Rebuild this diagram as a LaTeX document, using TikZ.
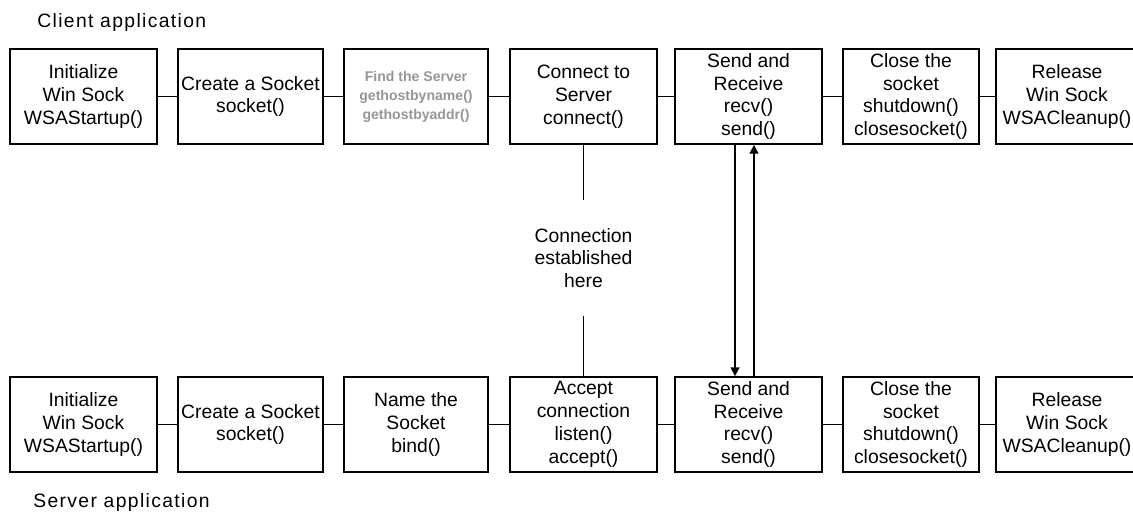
\documentclass[tikz,border=0pt]{standalone}
\usepackage{fontspec}
\setmainfont{Liberation Sans}
\usetikzlibrary{arrows.meta}
\definecolor{faint}{RGB}{150,150,150}
\tikzset{
  box/.style={draw, line width=1pt, inner sep=0pt, align=center,
    minimum height=1.9cm, font=\fontsize{11}{13}\selectfont},
  link/.style={line width=1pt},
  flow/.style={line width=1pt, -{Triangle[width=5pt,length=5pt]}},
  title/.style={anchor=west, inner sep=0pt,
    font=\fontsize{11}{13}\selectfont\addfontfeature{LetterSpace=7}},
  note/.style={align=center, inner sep=0pt, font=\fontsize{11}{13}\selectfont}
}
\begin{document}
\begin{tikzpicture}[x=0.02cm, y=-0.02cm]
\useasboundingbox (0,0) rectangle (1133,512);
% titles
\node[title] (ct) at (37,22) {Client application};
\node[title] (st) at (33,502) {Server application};
% client row
\node[box, minimum width=2.94cm] (t1) at (83.5,96.5) {Initialize\\Win Sock\\WSAStartup()};
\node[box, minimum width=2.90cm] (t2) at (250.5,96.5) {Create a Socket\\socket()};
\node[box, minimum width=2.88cm, font=\fontsize{8}{10.8}\selectfont\bfseries, text=faint] (t3) at (416,96.5) {Find the Server\\gethostbyname()\\gethostbyaddr()};
\node[box, minimum width=2.94cm] (t4) at (583.5,96.5) {Connect to\\Server\\connect()};
\node[box, minimum width=2.94cm] (t5) at (748.5,96.5) {Send and\\Receive\\recv()\\send()};
\node[box, minimum width=2.72cm] (t6) at (911,96.5) {Close the\\socket\\shutdown()\\closesocket()};
\node[box, minimum width=2.84cm] (t7) at (1067,96.5) {Release\\Win Sock\\WSACleanup()};
% server row
\node[box, minimum width=2.94cm] (b1) at (83.5,424.5) {Initialize\\Win Sock\\WSAStartup()};
\node[box, minimum width=2.90cm] (b2) at (250.5,424.5) {Create a Socket\\socket()};
\node[box, minimum width=2.88cm] (b3) at (416,424.5) {Name the\\Socket\\bind()};
\node[box, minimum width=2.94cm] (b4) at (583.5,424.5) {Accept\\connection\\listen()\\accept()};
\node[box, minimum width=2.94cm] (b5) at (748.5,424.5) {Send and\\Receive\\recv()\\send()};
\node[box, minimum width=2.72cm] (b6) at (911,424.5) {Close the\\socket\\shutdown()\\closesocket()};
\node[box, minimum width=2.84cm] (b7) at (1067,424.5) {Release\\Win Sock\\WSACleanup()};
% horizontal links
\foreach \a/\b in {t1/t2,t2/t3,t3/t4,t4/t5,t5/t6,t6/t7,b1/b2,b2/b3,b3/b4,b4/b5,b5/b6,b6/b7}
  \draw[link] (\a.east) -- (\b.west);
% connection
\node[note, outer sep=16pt] (conn) at (583.5,258) {Connection\\established\\here};
\draw[link] (t4.south) -- (conn.north);
\draw[link] (conn.south) -- (b4.north);
% data flow
\draw[flow] ([xshift=-0.27cm]t5.south) -- ([xshift=-0.27cm]b5.north);
\draw[flow] ([xshift=0.11cm]b5.north) -- ([xshift=0.11cm]t5.south);
\end{tikzpicture}
\end{document}
